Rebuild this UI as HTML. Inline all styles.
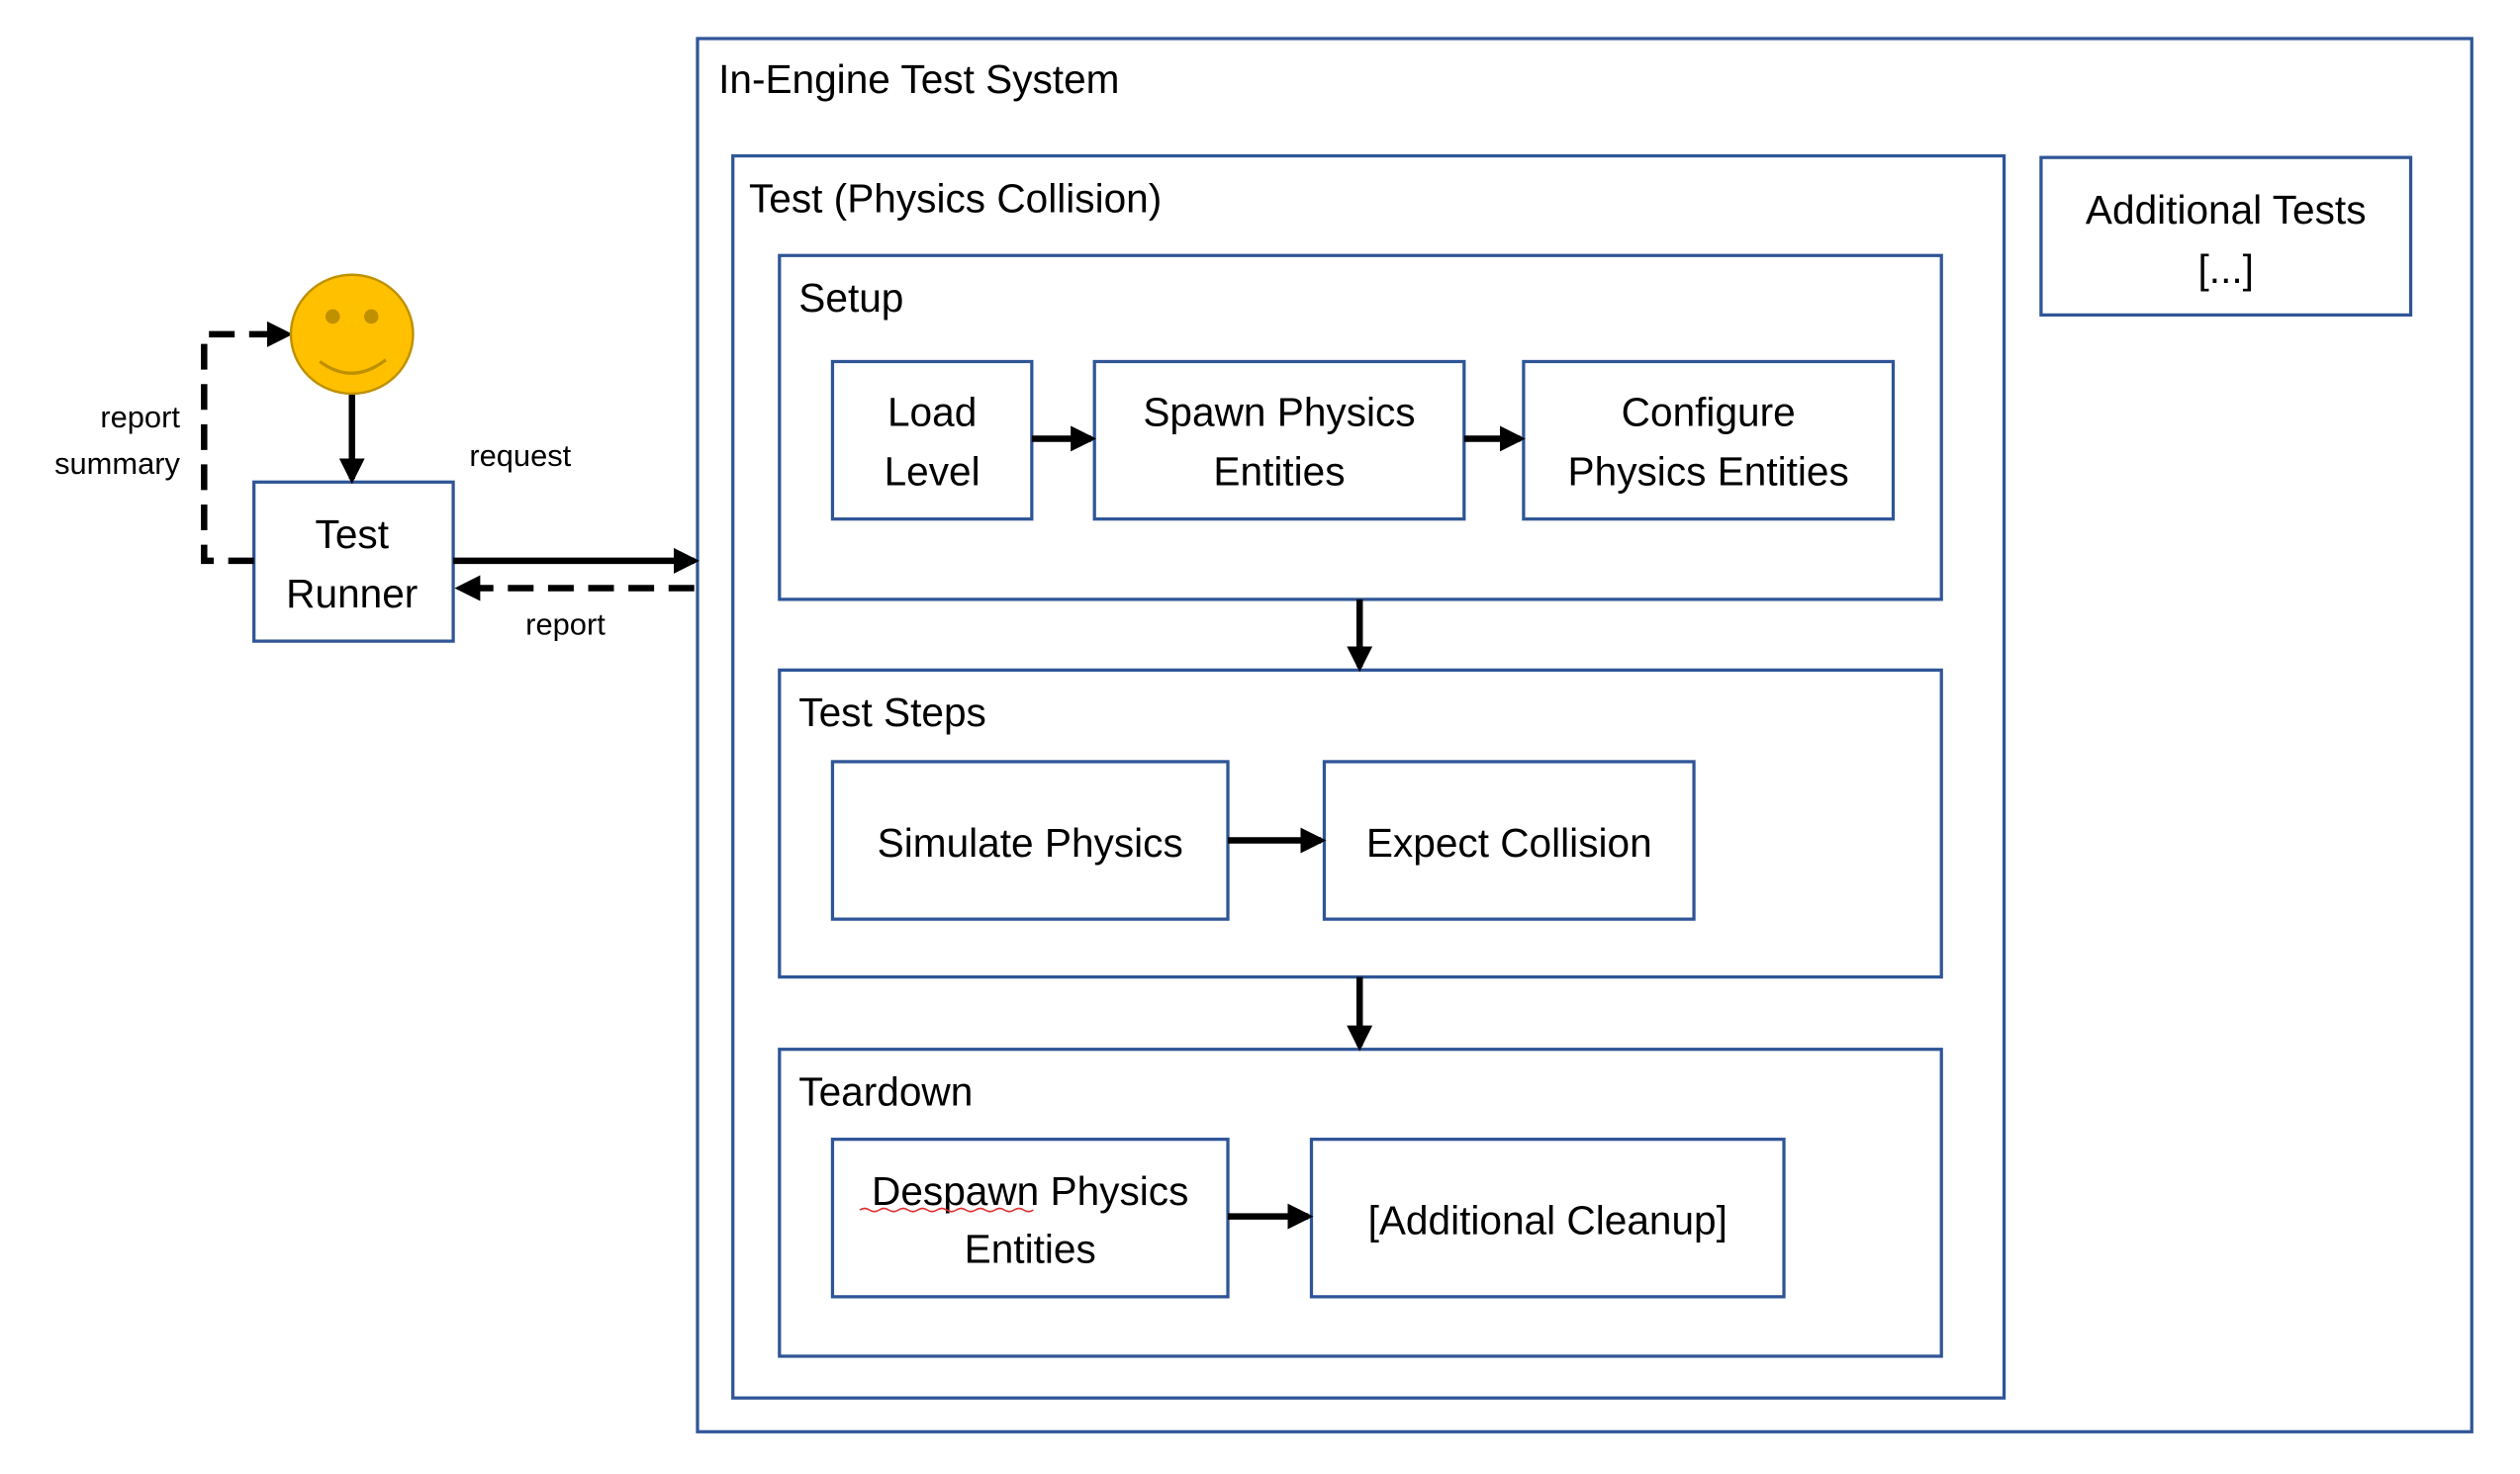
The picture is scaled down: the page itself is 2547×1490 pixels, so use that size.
<!DOCTYPE html>
<html><head><meta charset="utf-8"><style>html,body{margin:0;padding:0;background:#fff}svg{display:block}</style></head>
<body>
<svg width="2547" height="1490" viewBox="0 0 1568 917.3" xmlns="http://www.w3.org/2000/svg" font-family="Liberation Sans, sans-serif">
<defs>
<marker id="ah" markerWidth="4" markerHeight="4" refX="3.2" refY="2" orient="auto" markerUnits="strokeWidth"><path d="M0,0 L4,2 L0,4 z" fill="#000"/></marker>
</defs>
<g fill="none" stroke="#2F5597" stroke-width="2">
<rect x="434" y="24" width="1104" height="867"/>
<rect x="456" y="97" width="791" height="773"/>
<rect x="1270" y="98" width="230" height="98"/>
<rect x="485" y="159" width="723" height="214"/>
<rect x="518" y="225" width="124" height="98"/>
<rect x="681" y="225" width="230" height="98"/>
<rect x="948" y="225" width="230" height="98"/>
<rect x="485" y="417" width="723" height="191"/>
<rect x="518" y="474" width="246" height="98"/>
<rect x="824" y="474" width="230" height="98"/>
<rect x="485" y="653" width="723" height="191"/>
<rect x="518" y="709" width="246" height="98"/>
<rect x="816" y="709" width="294" height="98"/>
<rect x="158" y="300" width="124" height="99"/>
</g>
<g stroke="#000" stroke-width="4" fill="none">
<line x1="642" y1="273" x2="679" y2="273" marker-end="url(#ah)"/>
<line x1="911" y1="273" x2="946" y2="273" marker-end="url(#ah)"/>
<line x1="846" y1="373" x2="846" y2="415" marker-end="url(#ah)"/>
<line x1="764" y1="523" x2="822" y2="523" marker-end="url(#ah)"/>
<line x1="846" y1="608" x2="846" y2="651" marker-end="url(#ah)"/>
<line x1="764" y1="757" x2="814" y2="757" marker-end="url(#ah)"/>
<line x1="219" y1="245" x2="219" y2="298" marker-end="url(#ah)"/>
<line x1="282" y1="349" x2="432" y2="349" marker-end="url(#ah)"/>
<line x1="432" y1="366" x2="286" y2="366" stroke-dasharray="16,9" marker-end="url(#ah)"/>
<polyline points="158,349 127,349 127,208 179,208" stroke-dasharray="16,9" marker-end="url(#ah)"/>
</g>
<ellipse cx="219" cy="208" rx="38" ry="37" fill="#FFC000" stroke="#BF9000" stroke-width="1.5"/>
<circle cx="207" cy="197" r="4.5" fill="#BF9000"/>
<circle cx="231" cy="197" r="4.5" fill="#BF9000"/>
<path d="M199,225 Q219,240 240,224" fill="none" stroke="#BF9000" stroke-width="2"/>
<g font-size="25" fill="#000">
<text x="447" y="58">In-Engine Test System</text>
<text x="466" y="132">Test (Physics Collision)</text>
<text x="497" y="194">Setup</text>
<text x="497" y="452">Test Steps</text>
<text x="497" y="688">Teardown</text>
</g>
<g font-size="25" fill="#000" text-anchor="middle">
<text x="1385" y="139">Additional Tests</text>
<text x="1385" y="176">[...]</text>
<text x="580" y="265">Load</text><text x="580" y="302">Level</text>
<text x="796" y="265">Spawn Physics</text><text x="796" y="302">Entities</text>
<text x="1063" y="265">Configure</text><text x="1063" y="302">Physics Entities</text>
<text x="641" y="533">Simulate Physics</text>
<text x="939" y="533">Expect Collision</text>
<text x="641" y="750">Despawn Physics</text><text x="641" y="786">Entities</text>
<text x="963" y="768">[Additional Cleanup]</text>
<text x="219" y="341">Test</text><text x="219" y="378">Runner</text>
</g>
<path d="M535,753 q3,-2 6,0 t6,0 t6,0 t6,0 t6,0 t6,0 t6,0 t6,0 t6,0 t6,0 t6,0 t6,0 t6,0 t6,0 t6,0 t6,0 t6,0 t6,0" fill="none" stroke="#e03030" stroke-width="1"/>
<g font-size="19" fill="#000">
<text x="292" y="290">request</text>
<text x="327" y="395">report</text>
<text x="112" y="266" text-anchor="end">report</text>
<text x="112" y="295" text-anchor="end">summary</text>
</g>
</svg>
</body></html>
